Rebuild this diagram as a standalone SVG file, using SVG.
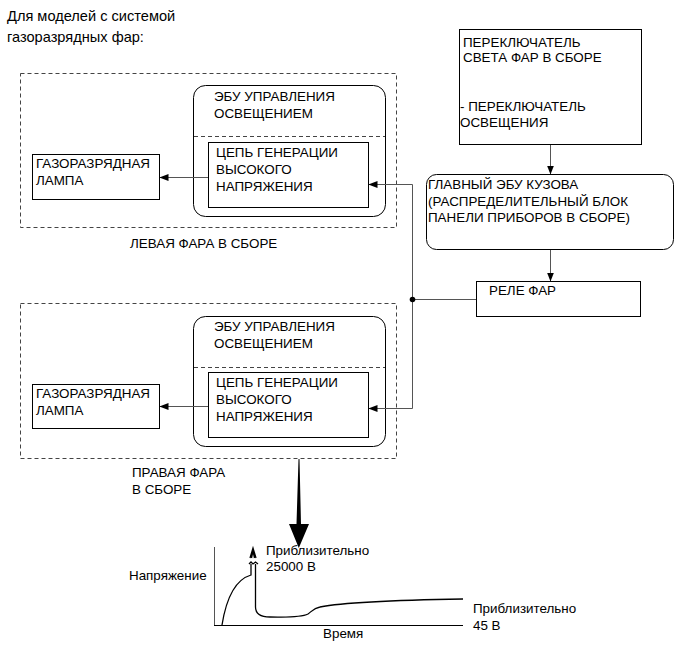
<svg xmlns="http://www.w3.org/2000/svg" width="691" height="660" viewBox="0 0 691 660">
<defs>
<style>
text{font-family:"Liberation Sans",Arial,sans-serif;font-size:13.4px;fill:#000}
.t{font-size:14.6px}
.box{fill:#fff;stroke:#000;stroke-width:1}
.dash{fill:none;stroke:#444;stroke-width:1;stroke-dasharray:4,3}
.sep{fill:none;stroke:#444;stroke-width:1;stroke-dasharray:4,3}
.ln{fill:none;stroke:#555;stroke-width:1}
.cv{fill:none;stroke:#000;stroke-width:1.3}
</style>
<marker id="ah" markerWidth="9" markerHeight="7" refX="8.5" refY="3.5" orient="auto" markerUnits="userSpaceOnUse">
<path d="M0,0 L9,3.5 L0,7 Z" fill="#000"/>
</marker>
</defs>
<rect width="691" height="660" fill="#fff"/>
<text class="t" x="7" y="21">Для моделей с системой</text>
<text class="t" x="7" y="42">газоразрядных фар:</text>

<g id="left-headlamp">
<rect class="dash" x="20.5" y="73.5" width="376" height="154"/>
<text x="130" y="248">ЛЕВАЯ ФАРА В СБОРЕ</text>
</g>
<g id="left-ecu">
<rect class="box" x="193.5" y="85.5" width="192" height="131" rx="12"/>
<line class="sep" x1="194" y1="136.5" x2="385" y2="136.5"/>
<text x="214" y="101">ЭБУ УПРАВЛЕНИЯ</text>
<text x="214" y="118">ОСВЕЩЕНИЕМ</text>
</g>
<g id="left-hv">
<rect class="box" x="208.5" y="142.5" width="160" height="65"/>
<text x="216" y="157">ЦЕПЬ ГЕНЕРАЦИИ</text>
<text x="216" y="174">ВЫСОКОГО</text>
<text x="216" y="191">НАПРЯЖЕНИЯ</text>
</g>
<g id="left-lamp">
<rect class="box" x="32.5" y="154.5" width="127" height="45"/>
<text x="36" y="168">ГАЗОРАЗРЯДНАЯ</text>
<text x="36" y="185">ЛАМПА</text>
</g>

<g id="right-headlamp">
<rect class="dash" x="20.5" y="303.5" width="376" height="155"/>
<text x="132" y="477">ПРАВАЯ ФАРА</text>
<text x="132" y="494">В СБОРЕ</text>
</g>
<g id="right-ecu">
<rect class="box" x="193.5" y="316.5" width="192" height="130" rx="12"/>
<line class="sep" x1="194" y1="367.5" x2="385" y2="367.5"/>
<text x="214" y="331">ЭБУ УПРАВЛЕНИЯ</text>
<text x="214" y="348">ОСВЕЩЕНИЕМ</text>
</g>
<g id="right-hv">
<rect class="box" x="208.5" y="372.5" width="160" height="65"/>
<text x="216" y="387">ЦЕПЬ ГЕНЕРАЦИИ</text>
<text x="216" y="404">ВЫСОКОГО</text>
<text x="216" y="421">НАПРЯЖЕНИЯ</text>
</g>
<g id="right-lamp">
<rect class="box" x="32.5" y="384.5" width="127" height="44"/>
<text x="36" y="398">ГАЗОРАЗРЯДНАЯ</text>
<text x="36" y="415">ЛАМПА</text>
</g>

<g id="switch">
<rect class="box" x="459.5" y="29.5" width="182" height="115"/>
<text x="463" y="47">ПЕРЕКЛЮЧАТЕЛЬ</text>
<text x="463" y="62">СВЕТА ФАР В СБОРЕ</text>
<text x="460" y="111">- ПЕРЕКЛЮЧАТЕЛЬ</text>
<text x="460" y="127">ОСВЕЩЕНИЯ</text>
</g>
<g id="body-ecu">
<rect class="box" x="426.5" y="174.5" width="247" height="75" rx="10"/>
<text x="428" y="189">ГЛАВНЫЙ ЭБУ КУЗОВА</text>
<text x="428" y="206">(РАСПРЕДЕЛИТЕЛЬНЫЙ БЛОК</text>
<text x="428" y="222">ПАНЕЛИ ПРИБОРОВ В СБОРЕ)</text>
</g>
<g id="relay">
<rect class="box" x="476.5" y="281.5" width="164" height="35"/>
<text x="489" y="295">РЕЛЕ ФАР</text>
</g>

<g id="connectors">
<line class="ln" x1="550.5" y1="145" x2="550.5" y2="174" marker-end="url(#ah)"/>
<line class="ln" x1="550.5" y1="250" x2="550.5" y2="281" marker-end="url(#ah)"/>
<line class="ln" x1="476" y1="299.5" x2="412.5" y2="299.5"/>
<polyline class="ln" points="412.5,184.5 412.5,408.5"/>
<line class="ln" x1="412.5" y1="184.5" x2="369" y2="184.5" marker-end="url(#ah)"/>
<line class="ln" x1="412.5" y1="408.5" x2="369" y2="408.5" marker-end="url(#ah)"/>
<circle cx="412.5" cy="299.5" r="2.8" fill="#000"/>
<line class="ln" x1="208" y1="177.5" x2="160" y2="177.5" marker-end="url(#ah)"/>
<line class="ln" x1="208" y1="406.5" x2="160" y2="406.5" marker-end="url(#ah)"/>
<path d="M298.5,459 L299.5,459 L301,524 L309,524 L298.8,548 L289,524 L296.5,524 Z" fill="#000"/>
</g>

<g id="chart">
<line x1="214.5" y1="547" x2="214.5" y2="625.5" stroke="#555" stroke-width="1"/>
<line x1="214" y1="625.5" x2="463" y2="625.5" stroke="#000" stroke-width="1"/>
<path class="cv" d="M222,625 C226,600 234,580 251,575 L251,564"/>
<path class="cv" d="M255.5,564 L255.5,607 C255.5,614 260,617 270,617 C285,617 300,618 308,614 C312,611 314,608 320,607 C345,602 400,600 463,599"/>
<path class="cv" d="M249,564 L251,562 L253,564 L255.5,562 L258,564 M250,558 L253,548 L256,558 M251.5,558 L253,551 L254.5,558"/>
<text x="129" y="580">Напряжение</text>
<text x="323" y="638">Время</text>
<text x="266" y="555">Приблизительно</text>
<text x="266" y="571">25000 В</text>
<text x="473" y="613">Приблизительно</text>
<text x="473" y="630">45 В</text>
</g>
</svg>
